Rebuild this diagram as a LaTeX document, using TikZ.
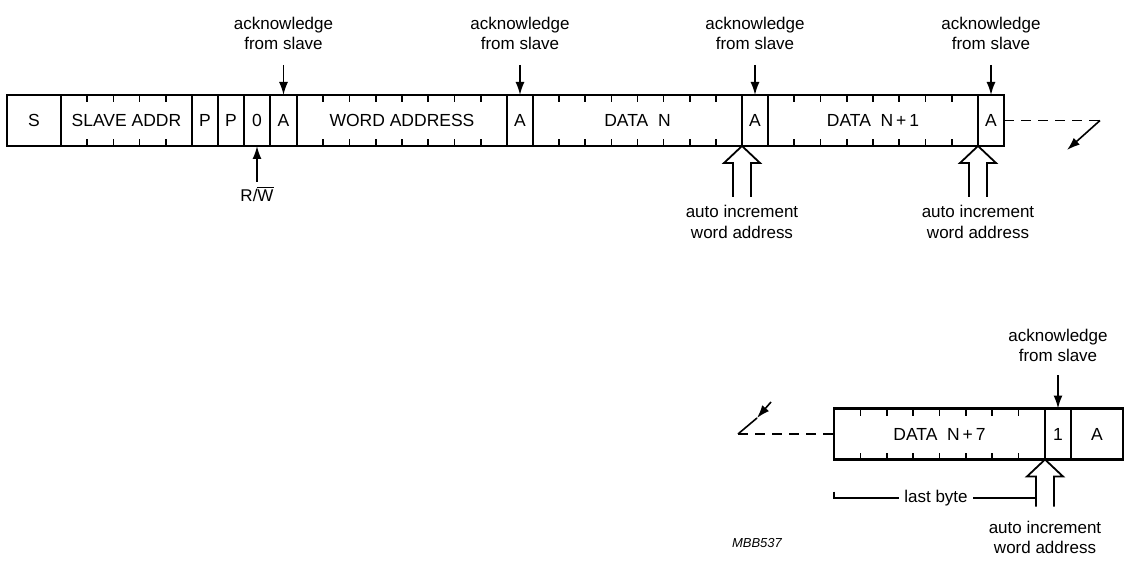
\documentclass[tikz,border=0pt]{standalone}
\usepackage{fontspec}
\setmainfont{Liberation Sans}
\usetikzlibrary{calc,arrows.meta}
\newcommand\bitticks[2]{%
  \pgfmathtruncatemacro\nmticks{#2-1}%
  \foreach \i in {1,...,\nmticks}{%
    \draw[tick] ($(#1.north west)!\i/#2!(#1.north east)$) -- ++(0,7);
    \draw[tick] ($(#1.south west)!\i/#2!(#1.south east)$) -- ++(0,-7);
  }}
\newcommand\hollowarrow[2]{%
  \draw[hollow] ($(#1)+(-9,#2)$) -- ++(0,{-(#2-17)}) -- ++(-9,0) -- (#1) -- ++(18,17) -- ++(-9,0) -- ++(0,{#2-17});}
\begin{document}
\begin{tikzpicture}[x=0.5pt,y=-0.5pt,
  field/.style={draw,line width=1.05pt,inner sep=0pt,outer sep=0pt,minimum height=25.5pt,anchor=west,font=\fontsize{8.75}{10}\selectfont},
  tick/.style={line width=0.85pt},
  lab/.style={align=center,font=\fontsize{8.5}{10.2}\selectfont,inner sep=0pt},
  arr/.style={line width=0.8pt,-{Latex[length=6.5pt,width=4.5pt]}},
  plain/.style={line width=0.8pt},
  hollow/.style={line width=0.9pt},
  dsh/.style={line width=0.9pt,dash pattern=on 5pt off 3.5pt}]
\useasboundingbox (0,0) rectangle (1125,561);

% ---- top frame ----
\node[field,minimum width=27pt]   (s)   at (7,120.5) {S};
\node[field,minimum width=65.5pt] (sa)  at (s.east)  {SLAVE ADDR};
\node[field,minimum width=13pt]   (p1)  at (sa.east) {P};
\node[field,minimum width=13pt]   (p2)  at (p1.east) {P};
\node[field,minimum width=13pt]   (z)   at (p2.east) {0};
\node[field,minimum width=13.5pt] (a1)  at (z.east)  {A};
\node[field,minimum width=105pt]  (wa)  at (a1.east) {WORD ADDRESS};
\node[field,minimum width=13pt]   (a2)  at (wa.east) {A};
\node[field,minimum width=104.5pt](dn)  at (a2.east) {DATA\ \ N};
\node[field,minimum width=13pt]   (a3)  at (dn.east) {A};
\node[field,minimum width=105pt]  (dn1) at (a3.east) {DATA\ \ N\,+\,1};
\node[field,minimum width=13pt]   (a4)  at (dn1.east) {A};

\bitticks{sa}{5}
\bitticks{wa}{8}
\bitticks{dn}{8}
\bitticks{dn1}{8}

% acknowledges
\foreach \f/\n in {a1/ack1,a2/ack2,a3/ack3,a4/ack4}{
  \node[lab,anchor=south] (\n) at ($(\f.north)+(0,-45)$) {acknowledge\\from slave};
  \draw[arr] ($(\n.south)+(0,15)$) -- (\f.north);
}

% R/W
\node[lab] (rw) at ($(z.south)+(0,48)$) {R/$\overline{\mbox{W}}$};
\draw[arr] ($(rw.north)+(0,-4)$) -- (z.south);

% auto increment (top)
\hollowarrow{dn.south east}{51}
\node[lab,anchor=north] (ai1) at ($(dn.south east)+(0,59)$) {auto increment\\word address};
\hollowarrow{dn1.south east}{51}
\node[lab,anchor=north] (ai2) at ($(dn1.south east)+(0,59)$) {auto increment\\word address};

% continuation (top)
\coordinate (c1) at (1100,120.5);
\coordinate (c2) at (1067,150);
\draw[dsh] (a4.east) -- (c1);
\draw[arr] (c1) -- (c2);

% ---- bottom frame ----
\node[field,minimum width=105.5pt] (dn7) at (834,434) {DATA\ \ N\,+\,7};
\node[field,minimum width=13pt]    (one) at (dn7.east) {1};
\node[field,minimum width=26pt]    (ab)  at (one.east) {A};
\bitticks{dn7}{8}

\node[lab,anchor=south] (ack5) at ($(one.north)+(0,-46)$) {acknowledge\\from slave};
\draw[arr] ($(ack5.south)+(0,13)$) -- (one.north);

\hollowarrow{dn7.south east}{47}
\node[lab,anchor=north] (ai3) at ($(dn7.south east)+(0,61)$) {auto increment\\word address};

% last byte
\node[lab,inner xsep=2.5pt] (lb) at (936,498) {last byte};
\coordinate (lbr) at ($(dn7.south east)+(-9,38)$);
\draw[plain] ($(dn7.south west)+(0,32)$) |- (lb.west);
\draw[plain] (lb.east) -- (lb.east -| lbr);

% continuation (bottom)
\coordinate (d1) at (771,402);
\coordinate (d2) at (757,418);
\coordinate (d3) at (738,434);
\draw[arr] (d1) -- (d2);
\draw[plain] (d2) -- (d3);
\draw[dsh] (d3) -- (dn7.west);

\node[font=\fontsize{6.5}{8}\selectfont\itshape,inner sep=0pt] (mbb) at (757,543) {MBB537};
\end{tikzpicture}
\end{document}
